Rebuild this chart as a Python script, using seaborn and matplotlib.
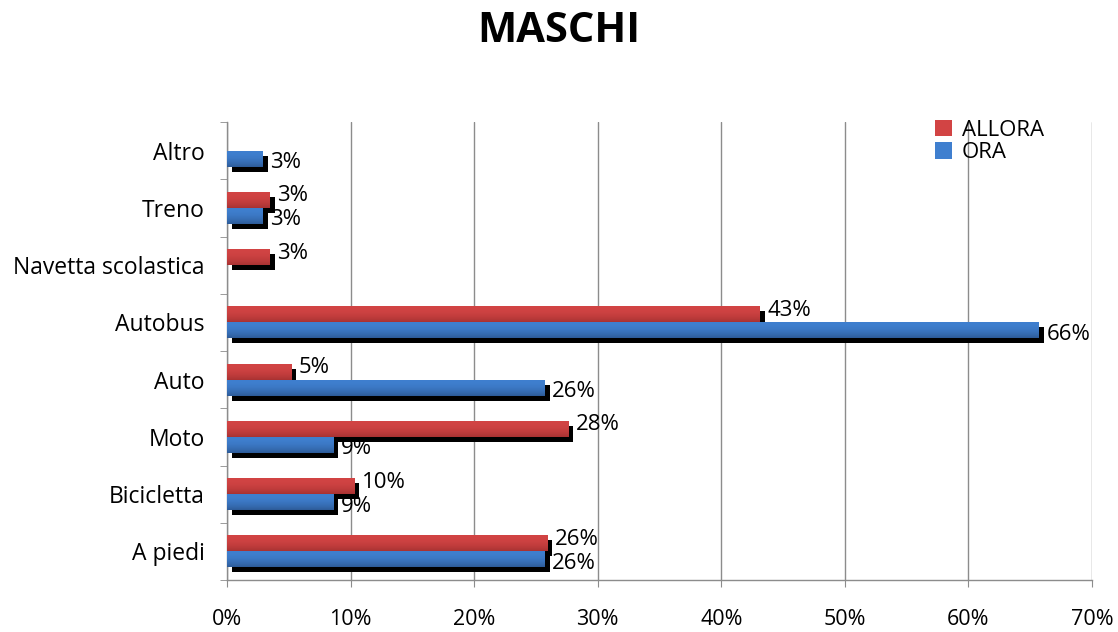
import numpy as np
import pandas as pd
import seaborn as sns
import matplotlib.pyplot as plt
from matplotlib.patches import Patch, Rectangle
from matplotlib.colors import LinearSegmentedColormap

# categories, top to bottom
categorie = ["Altro", "Treno", "Navetta scolastica", "Autobus", "Auto", "Moto", "Bicicletta", "A piedi"]
serie = ["ALLORA", "ORA"]
# percent values (0 = no bar)
allora = [0, 3.45, 3.45, 43.1, 5.2, 27.6, 10.3, 25.9]
ora = [2.9, 2.9, 0, 65.7, 25.7, 8.6, 8.6, 25.7]
x_ticks = [0, 10, 20, 30, 40, 50, 60, 70]

df = pd.DataFrame({
    "categoria": categorie * 2,
    "serie": ["ALLORA"] * len(categorie) + ["ORA"] * len(categorie),
    "valore": allora + ora,
})

sns.set_style("white")
plt.rcParams["font.family"] = ["Open Sans", "DejaVu Sans"]
plt.rcParams["text.color"] = "black"
plt.rcParams["xtick.color"] = "black"
plt.rcParams["ytick.color"] = "black"

colori = {"ALLORA": ("#d24444", "#a83232"), "ORA": ("#3f7fcf", "#2d5b98")}

fig = plt.figure(figsize=(11.18, 6.32), dpi=100)
ax = fig.add_axes([227 / 1118, 1 - 580 / 632, (1092 - 227) / 1118, (580 - 122) / 632])

sns.barplot(data=df, y="categoria", x="valore", hue="serie", order=categorie,
            hue_order=serie, palette={k: v[0] for k, v in colori.items()},
            width=0.56, orient="h", legend=False, ax=ax, zorder=3, linewidth=0)

ax.set_xlim(0, 70)
ax.set_ylim(7.5, -0.5)

# shadow + gradient per bar
dx = 5 / 123.6 * 10
dy = 5 / 57.3
grad = np.linspace(0, 1, 64) ** 2.2
bars = list(ax.patches)
for i, p in enumerate(bars):
    s = serie[i // len(categorie)]
    w = p.get_width()
    if not np.isfinite(w) or w <= 0:
        p.set_visible(False)
        continue
    x0, y0, h = p.get_x(), p.get_y(), p.get_height()
    ax.add_patch(Rectangle((x0 + dx, y0 + dy), w, h, color="black", zorder=2, lw=0))
    cmap = LinearSegmentedColormap.from_list(s, [colori[s][0], colori[s][1]])
    im = ax.imshow(grad.reshape(-1, 1), cmap=cmap, aspect="auto",
                   extent=(x0, x0 + w, y0 + h, y0), origin="upper", zorder=3.5,
                   vmin=0, vmax=1)
    im.set_clip_path(p)
    nudge = -0.07 if s == "ALLORA" else 0.07
    ax.text(x0 + w + 0.6, y0 + h / 2 + nudge, f"{w:.0f}%", va="center", ha="left",
            fontsize=16, color="black", zorder=5)

ax.set_xlim(0, 70)
ax.set_ylim(7.5, -0.5)

ax.set_xticks(x_ticks)
ax.set_xticklabels([f"{t}%" for t in x_ticks])
ax.set_yticks(range(len(categorie)))
ax.set_yticklabels(categorie)
ax.set_yticks(np.arange(-0.5, len(categorie)), minor=True)
ax.set_xlabel("")
ax.set_ylabel("")

ax.grid(axis="x", color="#8c8c8c", lw=1, zorder=0)
ax.grid(axis="y", visible=False)
ax.set_axisbelow(True)
for side in ["top", "right"]:
    ax.spines[side].set_visible(False)
for side in ["left", "bottom"]:
    ax.spines[side].set_color("#8c8c8c")
    ax.spines[side].set_linewidth(1)

ax.tick_params(axis="x", which="major", length=5, color="#8c8c8c", pad=16,
               labelsize=15.5, bottom=True, labelcolor="black")
ax.tick_params(axis="y", which="major", length=0, pad=16, labelsize=16.5,
               labelcolor="black")
ax.tick_params(axis="y", which="minor", length=5, color="#8c8c8c", left=True)

fig.text(0.5, 1 - 31 / 632, "MASCHI", ha="center", va="center",
         fontsize=30, fontweight="bold", color="black")

handles = [Patch(facecolor=colori[s][0], edgecolor="none") for s in serie]
fig.legend(handles, serie, loc="upper left", bbox_to_anchor=(935 / 1118, 1 - 120 / 632),
           frameon=False, fontsize=16, handlelength=0.75, handleheight=0.75,
           handletextpad=0.45, labelspacing=0.05, borderpad=0, borderaxespad=0)

fig.savefig("out.png", dpi=100, facecolor="white")
